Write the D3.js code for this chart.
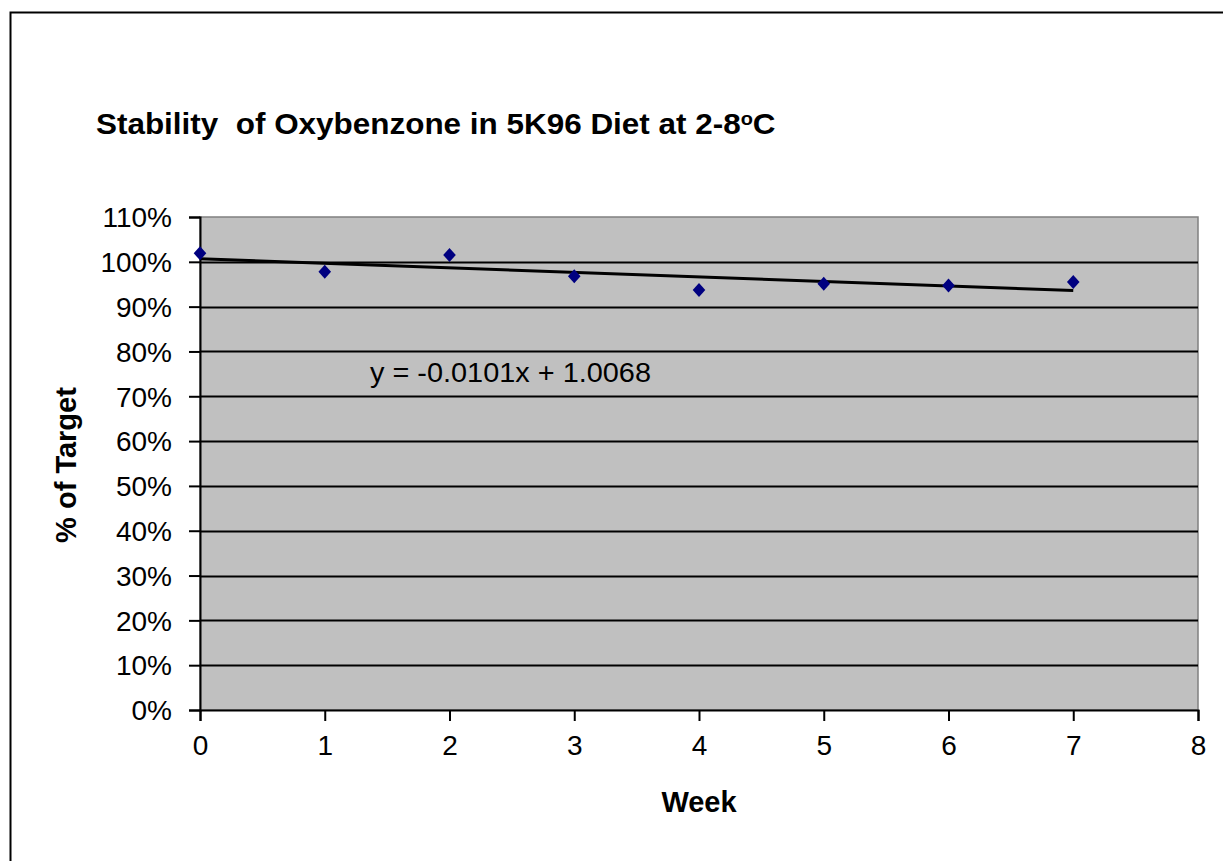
<!DOCTYPE html>
<html>
<head>
<meta charset="utf-8">
<script src="https://cdn.jsdelivr.net/npm/d3@7"></script>
<style>
  html, body { margin: 0; padding: 0; background: #fff; }
  svg { display: block; }
  text { font-family: "Liberation Sans", Arial, sans-serif; fill: #000; white-space: pre; }
</style>
</head>
<body>
<svg id="chart" width="1223" height="861"></svg>
<script>
// ---- data ----
const weeks = [0, 1, 2, 3, 4, 5, 6, 7];
const pctTarget = [1.019, 0.978, 1.015, 0.968, 0.937, 0.951, 0.947, 0.955];
const trendSlope = -0.0101;
const trendIntercept = 1.0068;
const trendLabel = "y = -0.0101x + 1.0068";
const yTicks = [0, 0.1, 0.2, 0.3, 0.4, 0.5, 0.6, 0.7, 0.8, 0.9, 1.0, 1.1];
const xTicks = [0, 1, 2, 3, 4, 5, 6, 7, 8];
const titleMain = "Stability  of Oxybenzone in 5K96 Diet at 2-8";
const titleSup = "o";
const titleEnd = "C";
const xTitle = "Week";
const yTitle = "% of Target";

// ---- layout ----
const svg = d3.select("#chart");
const pLeft = 200, pRight = 1198, pTop = 217, pBottom = 710;

const x = d3.scaleLinear().domain([0, 8]).range([pLeft, pRight]);
const y = d3.scaleLinear().domain([0, 1.1]).range([pBottom, pTop]);

// outer border
svg.append("rect").attr("x", 10.5).attr("y", 12.5).attr("width", 1400).attr("height", 1000)
  .attr("fill", "none").attr("stroke", "#000").attr("stroke-width", 2);

// plot area
svg.append("rect").attr("x", pLeft).attr("y", pTop).attr("width", pRight - pLeft).attr("height", pBottom - pTop)
  .attr("fill", "#c0c0c0").attr("stroke", "#808080").attr("stroke-width", 1.5);

// gridlines
svg.append("g").selectAll("line").data(yTicks.filter(d => d > 0 && d < 1.1)).join("line")
  .attr("x1", pLeft).attr("x2", pRight)
  .attr("y1", d => Math.round(y(d)) + 0.5).attr("y2", d => Math.round(y(d)) + 0.5)
  .attr("stroke", "#000").attr("stroke-width", 1.8);

// y axis
const yAxis = d3.axisLeft(y).tickValues(yTicks).tickFormat(d3.format(".0%")).tickSize(11).tickPadding(17);
const gy = svg.append("g").attr("transform", `translate(${pLeft},0)`).call(yAxis);
gy.select(".domain").attr("stroke", "#000").attr("stroke-width", 2);
gy.selectAll(".tick line").attr("stroke", "#000").attr("stroke-width", 2);
gy.selectAll(".tick text").attr("font-size", 28).attr("font-family", '"Liberation Sans", Arial, sans-serif')
  .attr("fill", "#000").attr("dy", "0.35em");

// x axis
const xAxis = d3.axisBottom(x).tickValues(xTicks).tickFormat(d3.format("d")).tickSize(11).tickPadding(14);
const gx = svg.append("g").attr("transform", `translate(0,${pBottom})`).call(xAxis);
gx.select(".domain").attr("stroke", "#000").attr("stroke-width", 2);
gx.selectAll(".tick line").attr("stroke", "#000").attr("stroke-width", 2);
gx.selectAll(".tick text").attr("font-size", 28).attr("font-family", '"Liberation Sans", Arial, sans-serif')
  .attr("fill", "#000");

// trend line
const tx = [weeks[0], weeks[weeks.length - 1]];
svg.append("line")
  .attr("x1", x(tx[0])).attr("y1", y(trendIntercept + trendSlope * tx[0]))
  .attr("x2", x(tx[1])).attr("y2", y(trendIntercept + trendSlope * tx[1]))
  .attr("stroke", "#000").attr("stroke-width", 3);

// markers (diamonds)
const diamond = {
  draw(ctx, size) {
    const r = Math.sqrt(size / 2);
    ctx.moveTo(0, -r); ctx.lineTo(r * 0.9, 0); ctx.lineTo(0, r); ctx.lineTo(-r * 0.9, 0); ctx.closePath();
  }
};
svg.append("g").selectAll("path").data(weeks).join("path")
  .attr("d", d3.symbol(diamond, 98))
  .attr("transform", (d, i) => `translate(${x(d)},${y(pctTarget[i])})`)
  .attr("fill", "#000080");

// equation label
svg.append("text").attr("x", 370).attr("y", 382).attr("font-size", 28).attr("textLength", 281)
  .attr("lengthAdjust", "spacingAndGlyphs").text(trendLabel);

// title
const t = svg.append("text").attr("x", 96).attr("y", 134).attr("font-size", 30).attr("font-weight", "bold");
t.append("tspan").text(titleMain);
t.append("tspan").attr("font-size", 19).attr("dy", -9).text(titleSup);
t.append("tspan").attr("dy", 9).text(titleEnd);
// stretch title horizontally to the reference width
const tw = t.node().getBBox().width;
t.attr("transform", `translate(96,0) scale(${680 / tw},1) translate(-96,0)`);

// axis titles
svg.append("text").attr("x", (pLeft + pRight) / 2).attr("y", 812).attr("text-anchor", "middle")
  .attr("font-size", 29).attr("font-weight", "bold").text(xTitle);
svg.append("text").attr("transform", `translate(76,465) rotate(-90)`).attr("text-anchor", "middle")
  .attr("font-size", 29).attr("font-weight", "bold").text(yTitle);
</script>
</body>
</html>
